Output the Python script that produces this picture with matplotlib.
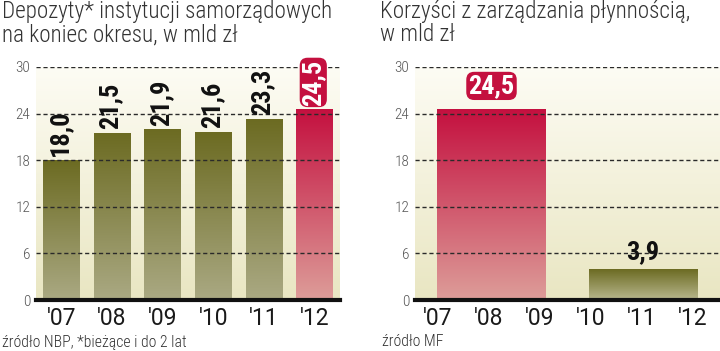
import matplotlib
matplotlib.use("Agg")
import matplotlib.pyplot as plt
import numpy as np
from matplotlib.colors import LinearSegmentedColormap

# ---------------- data ----------------
years = ["'07", "'08", "'09", "'10", "'11", "'12"]
deposits = [18.0, 21.5, 21.9, 21.6, 23.3, 24.5]
deposit_labels = ["18,0", "21,5", "21,9", "21,6", "23,3", "24,5"]
benefit_periods = ["2007-2009", "2010-2012"]
benefits = [24.5, 3.9]
benefit_labels = ["24,5", "3,9"]
yticks = [0, 6, 12, 18, 24, 30]

title_left = "Depozyty* instytucji samorządowych\nna koniec okresu, w mld zł"
title_right = "Korzyści z zarządzania płynnością,\nw mld zł"
source_left = "źródło NBP, *bieżące i do 2 lat"
source_right = "źródło MF"

FONT = 'Roboto Condensed'
plt.rcParams['font.family'] = [FONT, 'DejaVu Sans']

olive_top, olive_bot = "#6c6b22", "#aaa983"
red_top, red_bot = "#c4103f", "#dd9d99"
bg_top, bg_bot = "#fdfcf4", "#e9e6c2"
label_red = "#c4103f"
LABEL_FS = 19

fig = plt.figure(figsize=(7.2, 3.51), dpi=100)


def grad_img(ax, x0, x1, y0, y1, ctop, cbot, z, transform=None):
    cmap = LinearSegmentedColormap.from_list("g", [cbot, ctop])
    g = np.linspace(0, 1, 256).reshape(-1, 1)
    kw = {}
    if transform is not None:
        kw['transform'] = transform
    ax.imshow(g, extent=[x0, x1, y0, y1], origin='lower', cmap=cmap,
              aspect='auto', zorder=z, interpolation='bicubic', **kw)


def setup(ax, xlim):
    grad_img(ax, 0, 1, 0, 1, bg_top, bg_bot, 0, transform=ax.transAxes)
    ax.set_xlim(*xlim)
    ax.set_ylim(0, 30)
    for s in ['top', 'right', 'left']:
        ax.spines[s].set_visible(False)
    ax.spines['bottom'].set_linewidth(3)
    ax.spines['bottom'].set_color('#111111')
    ax.spines['bottom'].set_zorder(6)
    ax.set_yticks(yticks)
    ax.tick_params(axis='y', length=0, pad=4, labelsize=11, labelcolor='#555555')
    ax.tick_params(axis='x', length=0, pad=5, labelsize=16.5, labelcolor='#1a1a1a')
    for t in ax.get_yticklabels():
        t.set_fontweight(300)
    for y in yticks[1:]:
        ax.axhline(y, color='#2a2a2a', lw=1.0, ls=(0, (3, 2)), zorder=4)


def set_xlabels(ax, ticks, labels):
    ax.set_xticks(ticks)
    ax.set_xticklabels(labels, family=['Roboto', 'DejaVu Sans'])


def grad_bars(ax, bars, colors):
    for b, (ct, cb) in zip(bars, colors):
        x0 = b.get_x(); w = b.get_width(); h = b.get_height()
        b.set_facecolor('none'); b.set_edgecolor('none')
        grad_img(ax, x0, x0 + w, 0, h, ct, cb, 2)


# ---------------- left panel ----------------
axL = fig.add_axes([36/720, 51/351, 304/720, 233/351])
setup(axL, (-0.5, 5.5))
xL = np.arange(len(years))
barsL = axL.bar(xL, deposits, width=0.72, zorder=2)
colsL = [(olive_top, olive_bot)] * 5 + [(red_top, red_bot)]
grad_bars(axL, barsL, colsL)
set_xlabels(axL, xL, years)
for i, (v, lab) in enumerate(zip(deposits, deposit_labels)):
    if i == len(deposits) - 1:
        axL.annotate(lab, (i, v), xytext=(-1, 3), textcoords='offset points',
                     rotation=90, ha='center', va='bottom',
                     fontsize=LABEL_FS, fontweight='bold', color='white', zorder=8,
                     bbox=dict(boxstyle='round,pad=0.06,rounding_size=0.3',
                               fc=label_red, ec='none'), annotation_clip=False)
    else:
        axL.annotate(lab, (i, v), xytext=(-1, 3), textcoords='offset points',
                     rotation=90, ha='center', va='bottom',
                     fontsize=LABEL_FS, fontweight='bold', color='#111111', zorder=8,
                     annotation_clip=False)

# ---------------- right panel ----------------
axR = fig.add_axes([415/720, 51/351, 305/720, 233/351])
setup(axR, (-0.45, 5.53))
xR = [1.05, 4.02]
barsR = axR.bar(xR, benefits, width=2.13, zorder=2)
grad_bars(axR, barsR, [(red_top, red_bot), (olive_top, "#b8b78e")])
set_xlabels(axR, np.arange(len(years)), years)
axR.annotate(benefit_labels[0], (xR[0], benefits[0]), xytext=(0, 8.5),
             textcoords='offset points', ha='center', va='bottom',
             fontsize=LABEL_FS, fontweight='bold', color='white', zorder=8,
             bbox=dict(boxstyle='round,pad=0.08,rounding_size=0.3',
                       fc=label_red, ec='none'))
axR.annotate(benefit_labels[1], (xR[1], benefits[1]), xytext=(0, 4),
             textcoords='offset points', ha='center', va='bottom',
             fontsize=LABEL_FS, fontweight='bold', color='#111111', zorder=8)

# ---------------- titles / sources ----------------
for x, t in [(2/720, title_left), (380/720, title_right)]:
    fig.text(x, 1 - 0/351, t, ha='left', va='top', fontsize=16.7,
             fontweight=300, color='#333333', linespacing=1.02)
fig.text(2/720, 9/351, source_left, ha='left', va='center', fontsize=11.3,
         fontweight=300, color='#333333')
fig.text(382/720, 9/351, source_right, ha='left', va='center', fontsize=11.3,
         fontweight=300, color='#333333')

fig.savefig("out.png", dpi=100, facecolor='white')
